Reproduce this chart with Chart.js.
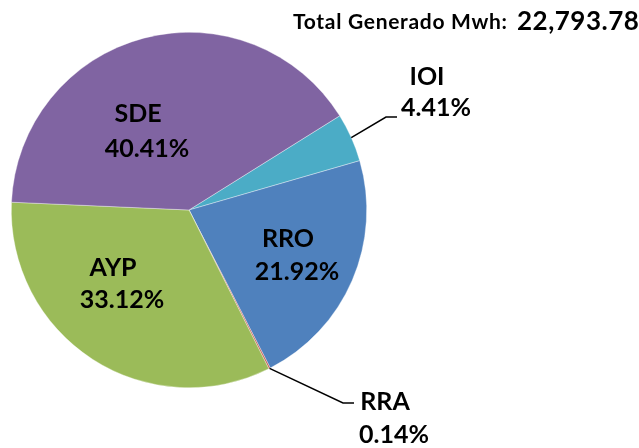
<!DOCTYPE html>
<html>
<head>
<meta charset="utf-8">
<script src="https://cdn.jsdelivr.net/npm/chart.js@4/dist/chart.umd.min.js"></script>
<style>
  html, body { margin: 0; padding: 0; background: #fff; }
  #wrap { position: relative; width: 639px; height: 448px; }
</style>
</head>
<body>
<div id="wrap"><canvas id="pieChart" width="639" height="448"></canvas></div>
<script>
// ---- data ----
const categories = ["IOI", "RRO", "RRA", "AYP", "SDE"];
const shares = [4.41, 21.92, 0.14, 33.12, 40.41];
const sliceColors = ["#4BACC6", "#4F81BD", "#C0504D", "#9BBB59", "#8064A2"];
const totalLabel = "Total Generado Mwh:";
const totalValue = "22,793.78";

// where each label sits (text only), and which ones get a leader line
const labelSpots = {
  IOI: { x: 427, y1: 85, y2: 116, lead: [[386, 117], [397, 117]] },
  RRO: { x: 288, y1: 247, y2: 280 },
  RRA: { x: 385, y1: 410, y2: 443, lead: [[343, 403], [354, 403]] },
  AYP: { x: 113, y1: 276, y2: 308 },
  SDE: { x: 138, y1: 122, y2: 157 }
};

const FONT = "Lato, 'Open Sans', sans-serif";

const pieLabels = {
  id: "pieLabels",
  afterDatasetsDraw(chart) {
    const ctx = chart.ctx;
    const arcs = chart.getDatasetMeta(0).data;
    ctx.save();
    ctx.fillStyle = "#000";
    ctx.textAlign = "center";
    ctx.textBaseline = "alphabetic";

    arcs.forEach((arc, i) => {
      const name = categories[i];
      const spot = labelSpots[name];
      if (!spot) return;
      if (spot.lead) {
        const mid = (arc.startAngle + arc.endAngle) / 2;
        const r = arc.outerRadius;
        ctx.beginPath();
        ctx.moveTo(arc.x + r * Math.cos(mid), arc.y + r * Math.sin(mid));
        spot.lead.forEach(p => ctx.lineTo(p[0], p[1]));
        ctx.strokeStyle = "#000";
        ctx.lineWidth = 1.5;
        ctx.stroke();
      }
      ctx.font = "bold 25px " + FONT;
      ctx.fillText(name, spot.x, spot.y1);
      ctx.fillText(shares[i].toFixed(2) + "%", spot.x + 9, spot.y2);
    });

    // total generated, top right
    ctx.textAlign = "left";
    ctx.font = "bold 21px " + FONT;
    ctx.letterSpacing = "0.7px";
    ctx.fillText(totalLabel, 293, 29);
    ctx.font = "bold 26px " + FONT;
    ctx.letterSpacing = "0.5px";
    ctx.fillText(totalValue, 517, 30);
    ctx.restore();
  }
};

new Chart(document.getElementById("pieChart"), {
  type: "pie",
  data: {
    labels: categories,
    datasets: [{
      data: shares,
      backgroundColor: sliceColors,
      borderColor: "rgba(255,255,255,0.6)",
      borderWidth: 0.6
    }]
  },
  options: {
    responsive: false,
    animation: false,
    rotation: 58,
    layout: { padding: { left: 11, top: 32, right: 272, bottom: 60 } },
    plugins: {
      legend: { display: false },
      tooltip: { enabled: false }
    }
  },
  plugins: [pieLabels]
});
</script>
</body>
</html>
